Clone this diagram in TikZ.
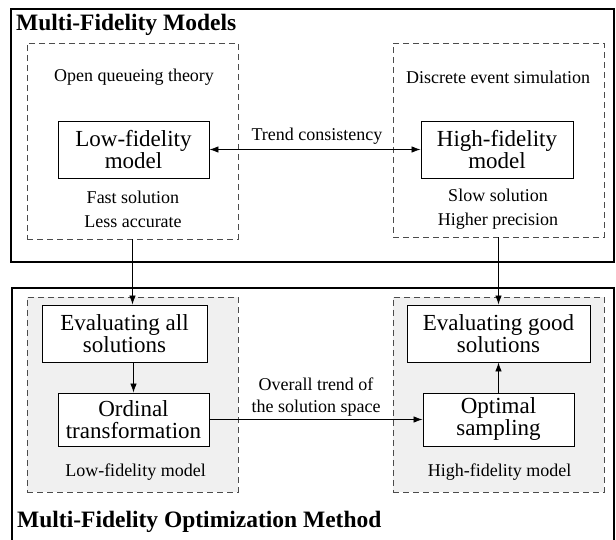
\documentclass[tikz,border=0pt]{standalone}
\usepackage{fontspec}
\setmainfont{Liberation Serif}
\usetikzlibrary{arrows.meta}
\tikzset{
  outerbox/.style={draw, line width=1.2pt, inner sep=0pt},
  dbox/.style={draw=black!70, dash pattern=on 6pt off 4pt, line width=0.9pt, inner sep=0pt},
  gbox/.style={dbox, fill=black!6},
  mbox/.style={draw, fill=white, line width=0.9pt, inner sep=0pt, align=center,
    font=\fontsize{23}{22}\selectfont},
  lbl/.style={inner sep=0pt, align=center, font=\fontsize{18}{24}\selectfont},
  ttl/.style={inner sep=0pt, anchor=west, font=\fontsize{23.5}{26}\selectfont\bfseries},
  arr/.style={-{Latex[length=9pt,width=6.5pt]}, line width=0.8pt},
  darr/.style={{Latex[length=9pt,width=6.5pt]}-{Latex[length=9pt,width=6.5pt]}, line width=0.8pt},
}
\begin{document}
\begin{tikzpicture}[x=1pt,y=-1pt]
\useasboundingbox (0,0) rectangle (616,540);
% outer boxes
\node[outerbox, minimum width=603, minimum height=253] (top) at (312.5,135.5) {};
\node[outerbox, minimum width=602, minimum height=253] (bot) at (313,414.5) {};
\node[ttl] (t1) at (16,25) {Multi-Fidelity Models};
\node[ttl] (t2) at (17,522) {Multi-Fidelity Optimization Method};
% dashed boxes
\node[dbox, minimum width=211, minimum height=196] (ld) at (132.5,141) {};
\node[dbox, minimum width=211, minimum height=194] (rd) at (498.5,140) {};
\node[gbox, minimum width=211, minimum height=195] (lg) at (132.5,394.5) {};
\node[gbox, minimum width=211, minimum height=195] (rg) at (498.5,394.5) {};
% top contents
\node[lbl] (oq) at (134,77) {Open queueing theory};
\node[lbl] (de) at (498,77) {Discrete event simulation};
\node[mbox, minimum width=151, minimum height=57] (lf) at (133.5,149.5) {Low-fidelity\\model};
\node[mbox, minimum width=152, minimum height=57] (hf) at (497,149.5) {High-fidelity\\model};
\node[lbl] (fs) at (133,209) {Fast solution\\Less accurate};
\node[lbl] (ss) at (498,209) {Slow solution\\Higher precision};
\node[lbl] (tc) at (317,136) {Trend consistency};
\draw[darr] (lf.east) -- (hf.west);
% bottom contents
\node[mbox, minimum width=165, minimum height=57] (ea) at (124.5,333.5) {Evaluating all\\solutions};
\node[mbox, minimum width=151, minimum height=53] (od) at (133.5,419.5) {Ordinal\\transformation};
\node[mbox, minimum width=183, minimum height=57] (eg) at (498.5,333.5) {Evaluating good\\solutions};
\node[mbox, minimum width=151, minimum height=53] (op) at (498.5,419.5) {Optimal\\sampling};
\node[lbl] (lfm) at (135.5,472) {Low-fidelity model};
\node[lbl] (hfm) at (499.5,472) {High-fidelity model};
\node[lbl, font=\fontsize{18}{22}\selectfont] (ot) at (316,397) {Overall trend of\\the solution space};
\draw[arr] (ld.south) -- (ld.south |- ea.north);
\draw[arr] (rd.south) -- (rd.south |- eg.north);
\draw[arr] (od.north |- ea.south) -- (od.north);
\draw[arr] (op.north) -- (op.north |- eg.south);
\draw[arr] (od.east) -- (op.west);
\end{tikzpicture}
\end{document}
